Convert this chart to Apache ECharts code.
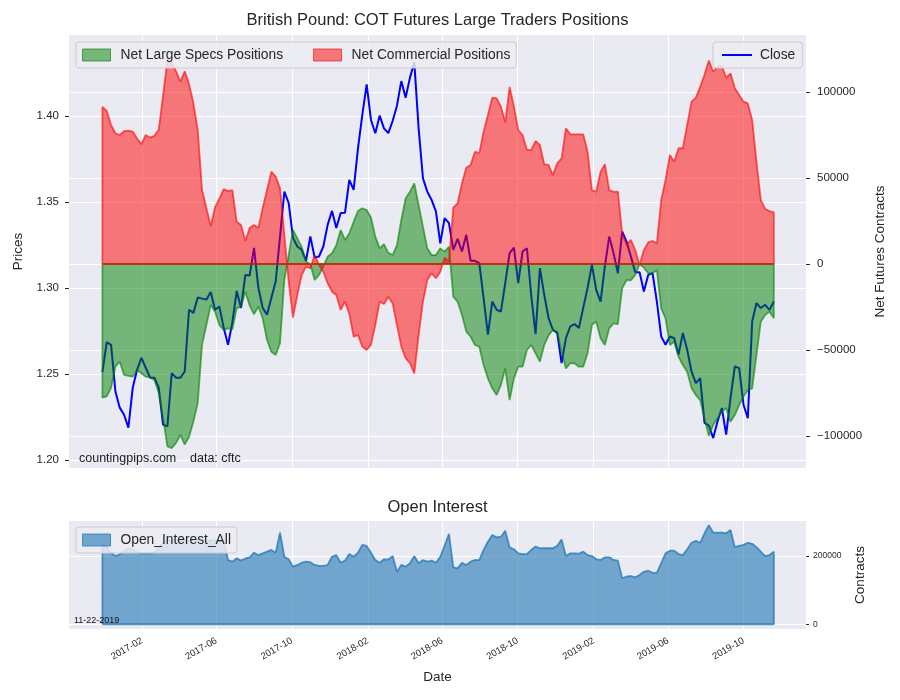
<!DOCTYPE html>
<html><head><meta charset="utf-8">
<script src="https://cdn.jsdelivr.net/npm/echarts@6/dist/echarts.min.js"></script>
<style>html,body{margin:0;padding:0;background:#fff}#c{width:900px;height:700px}</style>
</head><body><div id="c"></div>
<script>
// ---------- DATA ----------
const dates = [
'2016-11-29','2016-12-06','2016-12-13','2016-12-20','2016-12-27',
'2017-01-03','2017-01-10','2017-01-17','2017-01-24','2017-01-31','2017-02-07','2017-02-14','2017-02-21','2017-02-28',
'2017-03-07','2017-03-14','2017-03-21','2017-03-28','2017-04-04','2017-04-11','2017-04-18','2017-04-25',
'2017-05-02','2017-05-09','2017-05-16','2017-05-23','2017-05-30','2017-06-06','2017-06-13','2017-06-20','2017-06-27',
'2017-07-04','2017-07-11','2017-07-18','2017-07-25','2017-08-01','2017-08-08','2017-08-15','2017-08-22','2017-08-29',
'2017-09-05','2017-09-12','2017-09-19','2017-09-26','2017-10-03','2017-10-10','2017-10-17','2017-10-24','2017-10-31',
'2017-11-07','2017-11-14','2017-11-21','2017-11-28','2017-12-05','2017-12-12','2017-12-19','2017-12-26',
'2018-01-02','2018-01-09','2018-01-16','2018-01-23','2018-01-30','2018-02-06','2018-02-13','2018-02-20','2018-02-27',
'2018-03-06','2018-03-13','2018-03-20','2018-03-27','2018-04-03','2018-04-10','2018-04-17','2018-04-24',
'2018-05-01','2018-05-08','2018-05-15','2018-05-22','2018-05-29','2018-06-05','2018-06-12','2018-06-19','2018-06-26',
'2018-07-03','2018-07-10','2018-07-17','2018-07-24','2018-07-31','2018-08-07','2018-08-14','2018-08-21','2018-08-28',
'2018-09-04','2018-09-11','2018-09-18','2018-09-25','2018-10-02','2018-10-09','2018-10-16','2018-10-23','2018-10-30',
'2018-11-06','2018-11-13','2018-11-20','2018-11-27','2018-12-04','2018-12-11','2018-12-18','2018-12-25',
'2019-01-01','2019-01-08','2019-01-15','2019-01-22','2019-01-29','2019-02-05','2019-02-12','2019-02-19','2019-02-26',
'2019-03-05','2019-03-12','2019-03-19','2019-03-26','2019-04-02','2019-04-09','2019-04-16','2019-04-23','2019-04-30',
'2019-05-07','2019-05-14','2019-05-21','2019-05-28','2019-06-04','2019-06-11','2019-06-18','2019-06-25',
'2019-07-02','2019-07-09','2019-07-16','2019-07-23','2019-07-30','2019-08-06','2019-08-13','2019-08-20','2019-08-27',
'2019-09-03','2019-09-10','2019-09-17','2019-09-24','2019-10-01','2019-10-08','2019-10-15','2019-10-22','2019-10-29',
'2019-11-05','2019-11-12','2019-11-19'
];

const closePrice = [
1.2511,1.2685,1.2669,1.2398,1.2304,1.2263,1.2187,1.2420,1.2524,1.2594,
1.2536,1.2478,1.2478,1.2420,1.2205,1.2195,1.2505,1.2478,1.2478,1.2514,
1.2873,1.2855,1.2944,1.2938,1.2932,1.2977,1.2873,1.2892,1.2768,1.2669,
1.2800,1.2983,1.2884,1.3076,1.3073,1.3233,1.3001,1.2884,1.2844,1.2942,
1.3037,1.3299,1.3560,1.3494,1.3291,1.3241,1.3222,1.3158,1.3299,1.3177,
1.3183,1.3241,1.3367,1.3448,1.3349,1.3436,1.3437,1.3628,1.3570,1.3812,
1.4006,1.4184,1.3977,1.3900,1.4002,1.3928,1.3900,1.3971,1.4060,1.4203,
1.4106,1.4223,1.4312,1.3928,1.3638,1.3560,1.3512,1.3444,1.3260,1.3406,
1.3377,1.3222,1.3285,1.3212,1.3309,1.3158,1.3158,1.3144,1.2941,1.2728,
1.2921,1.2873,1.2863,1.3028,1.3202,1.3235,1.3028,1.3212,1.3231,1.2956,
1.2732,1.3115,1.2960,1.2825,1.2757,1.2738,1.2563,1.2708,1.2776,1.2790,
1.2767,1.2884,1.3000,1.3134,1.2989,1.2921,1.3125,1.3299,1.3202,1.3086,
1.3328,1.3270,1.3183,1.3092,1.3092,1.2979,1.3076,1.3086,1.2921,1.2718,
1.2670,1.2718,1.2708,1.2612,1.2738,1.2640,1.2514,1.2447,1.2476,1.2215,
1.2200,1.2127,1.2224,1.2302,1.2147,1.2360,1.2543,1.2534,1.2321,1.2243,
1.2805,1.2912,1.2883,1.2902,1.2873,1.2921
];

const netLargeSpecs = [
-77700,-77000,-72000,-59700,-56800,-64500,-65000,-65500,-61600,-63500,
-65500,-65900,-67400,-75000,-89600,-106000,-107000,-104000,-99400,-105000,
-100400,-91700,-80900,-47000,-35500,-23800,-27700,-35500,-38400,-37400,
-38000,-25800,-24800,-16100,-24200,-29200,-24800,-31600,-44200,-51000,
-52900,-46100,-9300,5200,19800,14900,10000,1400,-200,-9300,
-6400,-1500,4300,6200,11000,19800,14000,17900,24600,30800,
32400,31400,27000,15900,9100,11500,6500,5200,11000,25600,
38200,42000,46900,34300,21700,9100,5200,5200,9100,7200,
10000,-19000,-21900,-29700,-39300,-42300,-47100,-48000,-58700,-66500,
-72300,-76200,-70300,-60700,-79100,-66500,-59700,-59700,-50000,-47100,
-51900,-56800,-47100,-41500,-38400,-39300,-51000,-60700,-57700,-57700,
-59700,-59700,-51900,-35500,-33500,-43200,-47100,-37400,-34500,-35000,
-14100,-9300,-9500,-6400,-200,-2100,-5400,-5400,-3500,-25800,
-31600,-47100,-45200,-53900,-58700,-62600,-72300,-76200,-79100,-90000,
-100000,-93600,-89700,-85800,-83900,-91700,-87800,-82000,-77100,-73300,
-72300,-52900,-33500,-29700,-27700,-31600
];

const netCommercial = [
91400,89000,80800,76000,75000,77300,77500,77000,73000,69600,
75000,73500,74500,78000,98000,118600,117500,112000,106000,112000,
104600,93600,78000,43000,32600,22000,33000,38000,43600,42400,
43000,24600,22700,13400,21100,22700,20900,32600,43000,53700,
50800,44000,16900,-10300,-31200,-18000,-6400,-1500,-2500,5200,
-600,-4500,-11200,-16100,-18000,-26700,-21900,-29000,-42300,-41300,
-48000,-50000,-47000,-35500,-21900,-23300,-19000,-22900,-35500,-48000,
-54800,-57700,-63600,-41300,-21900,-9300,-5400,-8300,-4500,3700,
1400,32800,35300,46900,56000,57600,65300,64300,76900,86600,
96700,96300,91500,82400,103000,91500,77900,75000,66300,66300,
71500,69200,58000,57600,51700,58500,61400,78900,75400,75400,
75400,75400,65300,43000,42000,53700,58000,43000,42000,42000,
17800,11000,14000,8100,-600,8100,12600,13400,12000,37200,
48800,63400,59500,67300,67300,80800,94400,96700,103000,110000,
118300,111800,114700,115300,108300,110900,102200,98300,94400,93400,
83700,59500,37200,32000,30800,30100
];

const openInterest = [
238000,225000,210000,200000,205000,215000,222000,220000,212000,208000,
208000,208000,210000,225000,240000,246000,246000,247000,246000,246000,
245000,246000,247000,246000,245000,246000,246000,245000,244000,188600,
183600,193600,186600,193000,196500,210000,203000,208000,213000,218000,
210000,269000,198000,190600,169000,174000,180600,183600,182000,174000,
171000,171000,174000,198000,203000,180600,186600,206000,198000,210000,
232600,229700,210000,188600,180600,190600,190000,200000,154000,174000,
169000,179000,200000,179000,188600,183600,186600,180600,198000,231000,
265000,167000,164000,180600,174000,183600,188600,188000,218000,242000,
262000,255000,257000,274600,226000,220000,208000,206000,206000,218000,
228000,223000,223000,223000,223000,230000,249000,200000,208000,208000,
207000,213000,203000,200000,190600,188600,196500,196500,188600,186600,
135000,139500,141600,137700,144500,154000,157000,151000,151000,179000,
208000,216000,216000,206000,203000,220000,239000,245000,239000,267000,
291000,269000,269000,269000,267000,277000,226000,230000,233000,239000,
236000,226000,213000,200000,203000,213000
];

const priceTicks = [1.20, 1.25, 1.30, 1.35, 1.40];
const netTicks = [-100000, -50000, 0, 50000, 100000];
const oiTicks = [0, 200000];
const dateTicks = ['2017-02-01','2017-06-01','2017-10-01','2018-02-01','2018-06-01','2018-10-01','2019-02-01','2019-06-01','2019-10-01'];

// ---------- BUILD ----------
const t = s => { const p = s.split('-').map(Number); return new Date(p[0], p[1]-1, p[2]).getTime(); };
const T = dates.map(t);
const pts = arr => T.map((d, i) => [d, arr[i]]);
const outline = arr => [[T[0], 0]].concat(pts(arr), [[T[T.length-1], 0], [T[0], 0]]);
const xMin = t('2016-10-06'), xMax = t('2020-01-10');
const FONT = "'Liberation Sans', Arial, sans-serif";
const TXT = '#262626';
const minusFmt = v => v < 0 ? '\u2212' + Math.abs(v) : String(v);

const chart = echarts.init(document.getElementById('c'), null, {renderer: 'canvas'});
const baseX = {
  type: 'time', min: xMin, max: xMax,
  axisLine: {show: false}, axisTick: {show: false, customValues: dateTicks.map(t)},
  splitLine: {show: true, lineStyle: {color: '#ffffff', width: 1}}
};
const legendBox = {
  selectedMode: false, backgroundColor: 'rgba(236,236,243,0.85)',
  borderColor: '#cccccc', borderWidth: 1, borderRadius: 3
};
chart.setOption({
  animation: false,
  backgroundColor: '#ffffff',
  textStyle: {fontFamily: FONT},
  title: [
    {text: 'British Pound: COT Futures Large Traders Positions', left: 437.5, top: 12, textAlign: 'center', padding: 0,
     textStyle: {fontSize: 16.5, fontWeight: 'normal', color: TXT, fontFamily: FONT}},
    {text: 'Open Interest', left: 437.5, top: 499, textAlign: 'center', padding: 0,
     textStyle: {fontSize: 16.5, fontWeight: 'normal', color: TXT, fontFamily: FONT}}
  ],
  grid: [
    {left: 69, top: 35, width: 737, height: 433, show: true, backgroundColor: '#EAEAF2', borderWidth: 0},
    {left: 69, top: 521, width: 737, height: 108, show: true, backgroundColor: '#EAEAF2', borderWidth: 0}
  ],
  legend: [
    Object.assign({}, legendBox, {left: 76, top: 42, padding: [6, 6, 6, 6], itemGap: 30, itemWidth: 28, itemHeight: 12,
     textStyle: {fontSize: 13.8, color: TXT, fontFamily: FONT, padding: [0, 0, 0, 5]},
     data: [
       {name: 'Net Large Specs Positions', icon: 'rect', itemStyle: {color: 'rgba(0,128,0,0.5)', borderColor: 'rgba(0,110,0,0.6)', borderWidth: 1, opacity: 1}},
       {name: 'Net Commercial Positions', icon: 'rect', itemStyle: {color: 'rgba(255,0,0,0.5)', borderColor: 'rgba(230,0,0,0.6)', borderWidth: 1, opacity: 1}}
     ]}),
    Object.assign({}, legendBox, {left: 713, top: 42, padding: [6, 7, 6, 9], itemWidth: 30, itemHeight: 2,
     textStyle: {fontSize: 13.8, color: TXT, fontFamily: FONT, padding: [0, 0, 0, 3]},
     data: [{name: 'Close', icon: 'rect', itemStyle: {color: '#0000ff', borderWidth: 0}}]}),
    Object.assign({}, legendBox, {left: 76, top: 527, padding: [6, 6, 6, 6], itemWidth: 28, itemHeight: 12,
     textStyle: {fontSize: 13.8, color: TXT, fontFamily: FONT, padding: [0, 0, 0, 5]},
     data: [{name: 'Open_Interest_All', icon: 'rect', itemStyle: {color: 'rgba(31,119,180,0.6)', borderColor: 'rgba(31,119,180,0.75)', borderWidth: 1, opacity: 1}}]})
  ],
  xAxis: [
    Object.assign({}, baseX, {gridIndex: 0, axisLabel: {show: false}}),
    Object.assign({}, baseX, {gridIndex: 1,
      name: 'Date', nameLocation: 'middle', nameGap: 41, nameTextStyle: {fontSize: 13.5, color: TXT, fontFamily: FONT},
      axisLabel: {show: true, rotate: 30, fontSize: 9.5, color: TXT, margin: 11, hideOverlap: false,
                  customValues: dateTicks.map(t), formatter: '{yyyy}-{MM}'}})
  ],
  yAxis: [
    {type: 'value', gridIndex: 0, position: 'left', min: 1.1953, max: 1.4471,
     name: 'Prices', nameLocation: 'middle', nameGap: 39, nameRotate: 90,
     nameTextStyle: {fontSize: 13.5, color: TXT, fontFamily: FONT},
     axisLine: {show: false},
     axisTick: {show: true, length: 4, lineStyle: {color: TXT}, customValues: priceTicks},
     axisLabel: {fontSize: 11.5, color: TXT, margin: 10, customValues: priceTicks, formatter: v => v.toFixed(2)},
     splitLine: {show: true, lineStyle: {color: '#ffffff', width: 1}}},
    {type: 'value', gridIndex: 0, position: 'right', min: -118600, max: 133140,
     name: 'Net Futures Contracts', nameLocation: 'middle', nameGap: 59, nameRotate: 90,
     nameTextStyle: {fontSize: 13.5, color: TXT, fontFamily: FONT},
     axisLine: {show: false},
     axisTick: {show: true, length: 4, lineStyle: {color: TXT}, customValues: netTicks},
     axisLabel: {fontSize: 11.5, color: TXT, margin: 11, customValues: netTicks, formatter: minusFmt},
     splitLine: {show: true, lineStyle: {color: '#ffffff', width: 1}}},
    {type: 'value', gridIndex: 1, position: 'right', min: -14000, max: 303000,
     name: 'Contracts', nameLocation: 'middle', nameGap: 47, nameRotate: 90,
     nameTextStyle: {fontSize: 13.5, color: TXT, fontFamily: FONT},
     axisLine: {show: false},
     axisTick: {show: true, length: 3, lineStyle: {color: TXT}, customValues: oiTicks},
     axisLabel: {fontSize: 8.5, color: TXT, margin: 7, customValues: oiTicks, formatter: minusFmt},
     splitLine: {show: true, lineStyle: {color: '#ffffff', width: 1}}}
  ],
  series: [
    {name: 'Close', type: 'line', xAxisIndex: 0, yAxisIndex: 0, z: 1, symbol: 'none', data: pts(closePrice),
     itemStyle: {color: '#0000ff'}, lineStyle: {color: '#0000ff', width: 2}},
    {name: 'Net Large Specs Positions', type: 'line', xAxisIndex: 0, yAxisIndex: 1, z: 2, symbol: 'none',
     data: pts(netLargeSpecs), itemStyle: {color: 'rgba(0,128,0,0.5)'}, lineStyle: {width: 0},
     areaStyle: {color: 'rgba(0,128,0,0.5)', opacity: 1, origin: 'auto'}},
    {name: 'Net Commercial Positions', type: 'line', xAxisIndex: 0, yAxisIndex: 1, z: 2, symbol: 'none',
     data: pts(netCommercial), itemStyle: {color: 'rgba(255,0,0,0.5)'}, lineStyle: {width: 0},
     areaStyle: {color: 'rgba(255,0,0,0.5)', opacity: 1, origin: 'auto'}},
    {name: 'specsEdge', type: 'line', xAxisIndex: 0, yAxisIndex: 1, z: 3, symbol: 'none', silent: true,
     data: outline(netLargeSpecs), lineStyle: {color: 'rgba(0,128,0,0.6)', width: 1.8}},
    {name: 'commEdge', type: 'line', xAxisIndex: 0, yAxisIndex: 1, z: 3, symbol: 'none', silent: true,
     data: outline(netCommercial), lineStyle: {color: 'rgba(255,0,0,0.6)', width: 1.8}},
    {name: 'Open_Interest_All', type: 'line', xAxisIndex: 1, yAxisIndex: 2, z: 2, symbol: 'none',
     data: pts(openInterest), itemStyle: {color: 'rgba(31,119,180,0.6)'}, lineStyle: {width: 0},
     areaStyle: {color: 'rgba(31,119,180,0.6)', opacity: 1, origin: 'auto'}},
    {name: 'oiEdge', type: 'line', xAxisIndex: 1, yAxisIndex: 2, z: 3, symbol: 'none', silent: true,
     data: outline(openInterest), lineStyle: {color: 'rgba(31,119,180,0.75)', width: 1.8}}
  ],
  graphic: [
    {type: 'text', left: 79, top: 452, z: 10, style: {text: 'countingpips.com', fontSize: 12.5, fontFamily: FONT, fill: '#1a1a1a'}},
    {type: 'text', left: 190, top: 452, z: 10, style: {text: 'data: cftc', fontSize: 12.5, fontFamily: FONT, fill: '#1a1a1a'}},
    {type: 'text', left: 74, top: 616, z: 10, style: {text: '11-22-2019', fontSize: 9, fontFamily: FONT, fill: '#111111'}}
  ]
});
</script>
</body></html>
